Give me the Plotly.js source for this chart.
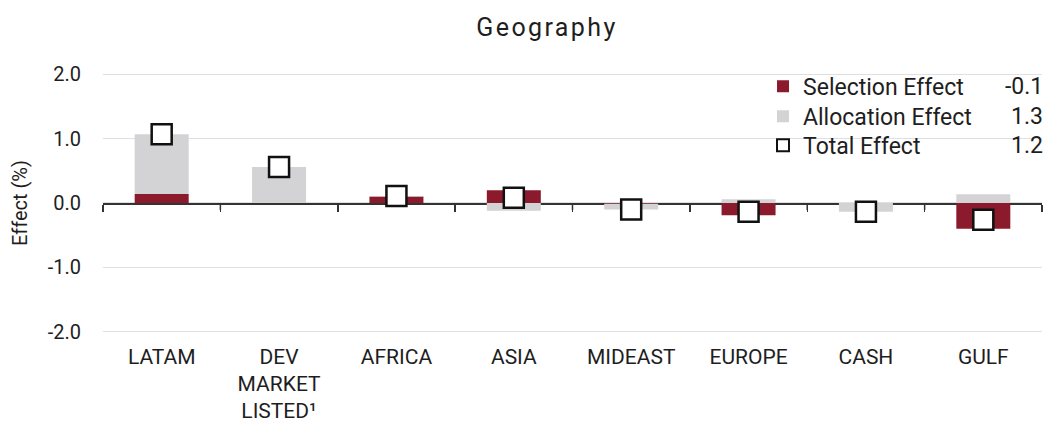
<!DOCTYPE html>
<html><head><meta charset="utf-8">
<script src="https://cdn.plot.ly/plotly-3.0.1.min.js"></script>
<style>html,body{margin:0;padding:0;background:#fff}#chart{width:1047px;height:425px}
.gtitle{letter-spacing:2.4px}</style>
</head><body><div id="chart"></div>
<script>
const categories = ["LATAM", "DEV<br>MARKET<br>LISTED¹", "AFRICA", "ASIA", "MIDEAST", "EUROPE", "CASH", "GULF"];
const selectionEffect = [0.14, 0.00, 0.10, 0.20, -0.01, -0.19, 0.00, -0.40];
const allocationEffect = [0.93, 0.56, 0.01, -0.12, -0.09, 0.06, -0.135, 0.135];
const totalEffect = [1.07, 0.56, 0.11, 0.08, -0.10, -0.135, -0.135, -0.26];
const legendNames = ["Selection Effect", "Allocation Effect", "Total Effect"];
const legendTotals = ["-0.1", "1.3", "1.2"];
const yTickVals = [-2, -1, 0, 1, 2];
const yTickText = ["-2.0", "-1.0", "0.0", "1.0", "2.0"];

const RED = "#8c1a2d", GREY = "#d3d3d5", TXT = "#1e1e1e";
const FONT = "Roboto, 'DejaVu Sans', sans-serif";
const LEGFONT = {family: FONT, size: 23, color: TXT};

const W = 1047, H = 425, M = {l: 103, r: 5, t: 68, b: 87};
const Y_RANGE = [-2.1, 2.1];
const pxPerUnit = (H - M.t - M.b) / (Y_RANGE[1] - Y_RANGE[0]);

// category boundary tick marks hanging 7px below the zero axis line
const boundaries = [-0.5].concat(categories.map((c, i) => i + 0.5));
const tickDepth = boundaries.map(() => 7 / pxPerUnit);
const tickBase = boundaries.map(() => 0);

const traces = [
  {type: "bar", x: categories, y: selectionEffect, name: legendNames[0], legend: "legend",
   marker: {color: RED}},
  {type: "bar", x: categories, y: allocationEffect, name: legendNames[1], legend: "legend2",
   marker: {color: GREY}},
  {type: "scatter", mode: "markers", x: boundaries, y: tickBase, xaxis: "x2",
   showlegend: false, hoverinfo: "skip", marker: {size: 1, opacity: 0},
   error_y: {type: "data", symmetric: false, array: tickBase, arrayminus: tickDepth,
             width: 0, thickness: 1.5, color: "#333"}},
  {type: "scatter", mode: "markers", x: categories, y: totalEffect, name: legendNames[2],
   legend: "legend3",
   marker: {symbol: "square", size: 20, color: "#ffffff", line: {color: "#111", width: 2.5}}}
];

const legendRowY = [0.9326, 0.8215, 0.7141];
const legendX = 0.7029;
const annotations = legendTotals.map((t, i) => ({
  xref: "paper", yref: "paper", x: 1.0, y: legendRowY[i], xanchor: "right", yanchor: "middle",
  xshift: 3, text: t, showarrow: false, font: LEGFONT
}));
function leg(i) {
  return {x: legendX, xanchor: "left", y: legendRowY[i], yanchor: "middle",
          bgcolor: "rgba(0,0,0,0)", borderwidth: 0, itemsizing: "constant", itemwidth: 30,
          font: LEGFONT};
}

const layout = {
  width: W, height: H,
  margin: M,
  paper_bgcolor: "#fff", plot_bgcolor: "#fff",
  font: {family: FONT, color: TXT},
  title: {text: "Geography", x: 547/1047, xanchor: "center", y: 0.935, yanchor: "middle",
          font: {family: FONT, size: 25, color: TXT}},
  barmode: "relative", bargap: 0.54,
  showlegend: true,
  legend: leg(0), legend2: leg(1), legend3: leg(2),
  xaxis: {type: "category", range: [-0.5, 7.5], anchor: "free", position: 0.5,
          tickson: "boundaries", ticks: "outside", ticklen: 7, tickwidth: 1.5, tickcolor: "#333",
          showline: true, linecolor: "#333", linewidth: 1.5, layer: "below traces",
          showgrid: false, zeroline: false,
          tickfont: {family: FONT, size: 21, color: TXT},
          ticklabelstandoff: 134, automargin: false},
  xaxis2: {type: "linear", overlaying: "x", range: [-0.5, 7.5], visible: false},
  yaxis: {range: Y_RANGE, tickvals: yTickVals, ticktext: yTickText, showline: false,
          ticks: "", gridcolor: "#e0e0e0", gridwidth: 1.5, zeroline: false,
          tickfont: {family: FONT, size: 20, color: TXT}, ticklabelstandoff: 21,
          title: {text: "Effect (%)", font: {family: FONT, size: 20, color: TXT}, standoff: 14},
          automargin: false},
  annotations: annotations
};

Plotly.newPlot("chart", traces, layout, {displayModeBar: false, staticPlot: true});
</script></body></html>
